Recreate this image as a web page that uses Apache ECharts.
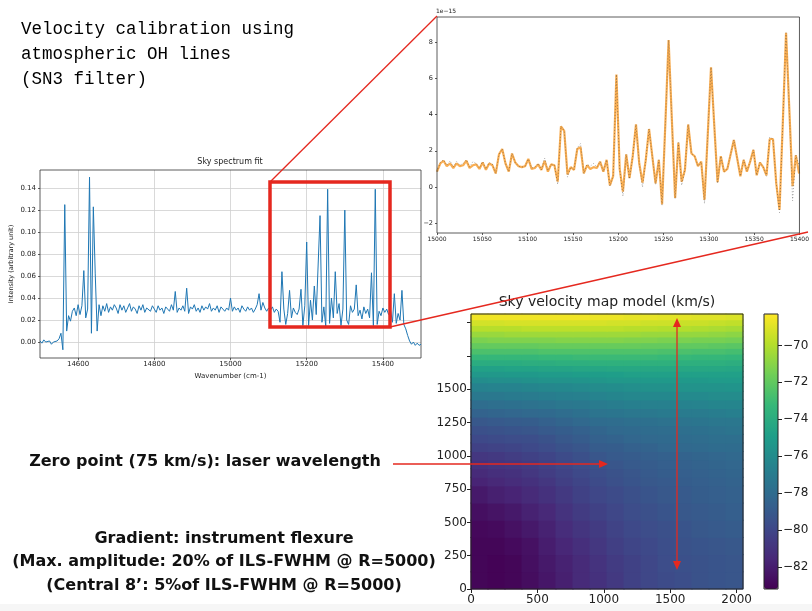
<!DOCTYPE html>
<html>
<head>
<meta charset="utf-8">
<script src="https://cdn.jsdelivr.net/npm/echarts@6/dist/echarts.min.js"></script>
<style>
  html, body { margin: 0; padding: 0; background: #fff; }
  #chart { width: 812px; height: 611px; }
</style>
</head>
<body>
<div id="chart"></div>
<script>
// sky spectrum, sampled every 5 cm-1 from 14500 to 15500
const specStart = 14500
const specStep = 5
const specValues = [
  0.001, -0.001, 0.002, 0.000, -0.001, 0.001, -0.002, 0.000, -0.001, 0.001, 0.003, 0.008, -0.007, 0.125, 0.010, 0.024, 0.019, 0.028, 0.031, 0.024,
  0.034, 0.025, 0.033, 0.065, 0.022, 0.030, 0.150, 0.008, 0.123, 0.062, 0.010, 0.034, 0.024, 0.033, 0.028, 0.035, 0.027, 0.032, 0.029, 0.034,
  0.031, 0.026, 0.034, 0.029, 0.033, 0.027, 0.031, 0.035, 0.028, 0.032, 0.030, 0.026, 0.033, 0.029, 0.034, 0.027, 0.031, 0.030, 0.028, 0.033,
  0.030, 0.027, 0.033, 0.029, 0.031, 0.026, 0.032, 0.030, 0.028, 0.034, 0.029, 0.046, 0.027, 0.031, 0.029, 0.033, 0.028, 0.049, 0.026, 0.032,
  0.030, 0.034, 0.028, 0.031, 0.027, 0.033, 0.029, 0.032, 0.030, 0.035, 0.028, 0.031, 0.029, 0.033, 0.027, 0.032, 0.030, 0.028, 0.031, 0.029,
  0.040, 0.028, 0.032, 0.029, 0.031, 0.027, 0.033, 0.030, 0.028, 0.032, 0.029, 0.031, 0.027, 0.030, 0.034, 0.044, 0.029, 0.036, 0.031, 0.028,
  0.031, 0.029, 0.032, 0.027, 0.030, 0.028, 0.018, 0.064, 0.030, 0.016, 0.026, 0.047, 0.022, 0.031, 0.027, 0.025, 0.030, 0.048, 0.015, 0.033,
  0.091, 0.015, 0.038, 0.020, 0.051, 0.025, 0.024, 0.115, 0.018, 0.032, 0.014, 0.139, 0.017, 0.040, 0.022, 0.064, 0.026, 0.035, 0.015, 0.030,
  0.120, 0.020, 0.016, 0.033, 0.027, 0.030, 0.052, 0.024, 0.029, 0.021, 0.032, 0.026, 0.030, 0.022, 0.063, 0.015, 0.139, 0.016, 0.028, 0.024,
  0.031, 0.027, 0.030, 0.025, 0.029, 0.018, 0.044, 0.017, 0.026, 0.020, 0.047, 0.016, 0.012, 0.006, 0.001, -0.002, 0.000, -0.003, -0.001, -0.003, -0.002
]
const specTicksX = [14600, 14800, 15000, 15200, 15400]
const specTicksY = [0, 0.02, 0.04, 0.06, 0.08, 0.10, 0.12, 0.14]

// zoomed fit (units of 1e-15), sampled every 3.6 cm-1 from 15000
const insetStart = 15000
const insetStep = 3.6
const insetFit = [
  0.85, 1.3, 1.45, 1.15, 1.3, 1.05, 1.3, 1.15, 1.2, 1.45,
  1.05, 1.2, 1.25, 1.0, 1.35, 0.95, 1.3, 1.2, 0.75, 1.8,
  2.1, 1.3, 0.85, 1.85, 1.35, 1.15, 1.1, 1.15, 1.55, 1.0,
  1.05, 1.25, 0.95, 1.45, 0.85, 1.25, 1.2, 0.3, 3.35, 3.1,
  0.7, 1.1, 0.95, 2.1, 2.2, 0.75, 1.2, 1.0, 1.1, 1.05,
  1.4, 0.85, 1.5, 0.1, 0.6, 6.2, 1.0, -0.25, 1.8, 0.5,
  1.7, 3.45, 1.3, 0.25, 1.5, 3.2, 1.7, 0.2, 1.5, -0.95,
  3.5, 8.1, 3.7, -0.6, 2.45, 0.3, 0.95, 3.45, 1.85, 1.7,
  1.15, 1.4, -0.7, 2.9, 6.6, 3.4, 0.27, 1.7, 0.85, 1.0,
  1.8, 2.6, 1.6, 0.6, 1.5, 0.85, 1.4, 2.05, 0.65, 1.35,
  1.1, 0.65, 2.65, 2.65, 0.2, -1.25, 3.5, 8.5, 4.3, 0.05,
  1.75, 0.75
]
const insetObs = [
  0.85, 1.35, 1.5, 1.2, 1.45, 1.1, 1.4, 1.2, 1.3, 1.5,
  1.1, 1.4, 1.3, 1.05, 1.4, 1.0, 1.35, 1.25, 0.75, 1.8,
  2.1, 1.3, 0.85, 1.85, 1.35, 1.15, 1.1, 1.15, 1.55, 1.05,
  1.1, 1.3, 0.95, 1.6, 0.9, 1.25, 1.2, 0.15, 3.35, 3.1,
  0.55, 1.1, 0.95, 2.15, 2.4, 0.75, 1.25, 1.15, 1.3, 1.1,
  1.4, 0.85, 1.5, 0.05, 0.6, 6.2, 1.0, -0.5, 1.8, 0.45,
  1.7, 3.45, 1.3, 0.0, 1.5, 3.2, 1.7, 0.15, 1.5, -1.0,
  3.5, 8.1, 3.7, -0.65, 2.45, 0.1, 0.95, 3.45, 1.85, 1.7,
  1.15, 1.4, -0.9, 2.9, 6.6, 3.4, 0.2, 1.7, 0.85, 1.0,
  1.8, 2.6, 1.6, 0.6, 1.5, 0.9, 1.4, 2.05, 0.65, 1.35,
  1.1, 0.6, 2.75, 2.65, 0.2, -1.4, 3.5, 8.5, 4.3, -0.75,
  1.75, 1.2
]
const insetTicksY = [-2, 0, 2, 4, 6, 8]

// velocity map model (km/s), cells on the 2048 x 2064 detector, rows bottom -> top
const colEdges = [0, 128, 256, 384, 512, 640, 768, 896, 1024, 1152, 1280, 1408, 1536, 1664, 1792, 1920, 2048]
const rowEdges = [0, 129, 258, 387, 516, 645, 774,
  838.5, 903, 967.5, 1032, 1096.5, 1161, 1225.5, 1290, 1354.5, 1419, 1483.5, 1548,
  1591, 1634, 1677, 1720, 1763, 1806, 1849, 1892, 1935, 1978, 2021, 2064]
const velRows = [
  [-83.0, -83.1, -83.0, -82.7, -82.3, -81.9, -81.4, -81.1, -80.7, -80.3, -80.0, -79.8, -79.6, -79.4, -79.3, -79.2],
  [-83.0, -83.1, -83.0, -82.6, -82.2, -81.8, -81.4, -81.0, -80.6, -80.3, -80.0, -79.7, -79.5, -79.4, -79.3, -79.2],
  [-83.0, -83.0, -82.8, -82.5, -82.0, -81.6, -81.2, -80.8, -80.4, -80.1, -79.9, -79.6, -79.4, -79.3, -79.2, -79.1],
  [-82.9, -82.8, -82.5, -82.2, -81.8, -81.3, -80.9, -80.6, -80.2, -79.9, -79.7, -79.5, -79.3, -79.1, -79.0, -78.9],
  [-82.6, -82.4, -82.2, -81.8, -81.5, -81.0, -80.6, -80.3, -80.0, -79.7, -79.5, -79.3, -79.1, -79.0, -78.9, -78.7],
  [-82.2, -81.9, -81.7, -81.4, -81.1, -80.7, -80.3, -80.0, -79.8, -79.5, -79.3, -79.1, -79.0, -78.8, -78.7, -78.6],
  [-81.7, -81.5, -81.3, -81.1, -80.8, -80.4, -80.1, -79.8, -79.5, -79.3, -79.1, -79.0, -78.8, -78.7, -78.6, -78.5],
  [-81.4, -81.2, -81.1, -80.8, -80.5, -80.2, -79.9, -79.6, -79.4, -79.2, -79.0, -78.8, -78.7, -78.6, -78.5, -78.4],
  [-81.1, -80.9, -80.8, -80.6, -80.3, -80.0, -79.7, -79.4, -79.2, -79.0, -78.9, -78.7, -78.6, -78.5, -78.4, -78.3],
  [-80.8, -80.7, -80.5, -80.3, -80.1, -79.8, -79.5, -79.2, -79.0, -78.9, -78.7, -78.6, -78.5, -78.4, -78.3, -78.2],
  [-80.3, -80.2, -80.1, -79.9, -79.7, -79.4, -79.2, -78.9, -78.8, -78.6, -78.5, -78.3, -78.2, -78.1, -78.0, -78.0],
  [-79.9, -79.8, -79.7, -79.6, -79.4, -79.1, -78.9, -78.6, -78.5, -78.3, -78.2, -78.1, -78.0, -77.9, -77.8, -77.8],
  [-79.5, -79.4, -79.3, -79.2, -79.0, -78.8, -78.6, -78.4, -78.2, -78.1, -78.0, -77.9, -77.8, -77.7, -77.6, -77.5],
  [-79.1, -79.0, -78.9, -78.8, -78.6, -78.4, -78.2, -78.0, -77.9, -77.8, -77.7, -77.6, -77.5, -77.4, -77.3, -77.3],
  [-78.5, -78.4, -78.3, -78.2, -78.1, -77.9, -77.7, -77.5, -77.4, -77.3, -77.2, -77.1, -77.0, -77.0, -76.9, -76.8],
  [-77.9, -77.8, -77.7, -77.6, -77.5, -77.3, -77.2, -77.0, -76.9, -76.8, -76.7, -76.7, -76.6, -76.5, -76.4, -76.4],
  [-77.2, -77.2, -77.1, -77.0, -76.9, -76.8, -76.7, -76.5, -76.4, -76.3, -76.2, -76.2, -76.1, -76.1, -76.0, -76.0],
  [-76.6, -76.5, -76.5, -76.4, -76.3, -76.2, -76.1, -76.0, -75.9, -75.8, -75.7, -75.7, -75.6, -75.6, -75.6, -75.5],
  [-75.9, -75.8, -75.8, -75.7, -75.6, -75.6, -75.5, -75.4, -75.3, -75.3, -75.2, -75.2, -75.2, -75.2, -75.1, -75.1],
  [-75.3, -75.3, -75.2, -75.2, -75.1, -75.1, -75.0, -75.0, -74.9, -74.8, -74.8, -74.8, -74.8, -74.8, -74.8, -74.8],
  [-74.7, -74.7, -74.6, -74.6, -74.5, -74.5, -74.4, -74.4, -74.3, -74.3, -74.3, -74.3, -74.3, -74.3, -74.3, -74.4],
  [-74.0, -74.0, -74.0, -73.9, -73.9, -73.8, -73.8, -73.7, -73.7, -73.7, -73.7, -73.7, -73.8, -73.8, -73.8, -73.9],
  [-73.3, -73.3, -73.3, -73.3, -73.2, -73.2, -73.1, -73.1, -73.1, -73.1, -73.1, -73.2, -73.2, -73.3, -73.3, -73.4],
  [-72.6, -72.6, -72.6, -72.6, -72.5, -72.5, -72.5, -72.5, -72.5, -72.5, -72.5, -72.6, -72.6, -72.7, -72.7, -72.8],
  [-71.9, -71.9, -71.9, -71.9, -71.8, -71.8, -71.8, -71.8, -71.8, -71.8, -71.9, -71.9, -72.0, -72.0, -72.1, -72.2],
  [-71.3, -71.2, -71.2, -71.2, -71.2, -71.1, -71.1, -71.1, -71.1, -71.2, -71.2, -71.3, -71.3, -71.4, -71.4, -71.5],
  [-70.6, -70.6, -70.5, -70.5, -70.5, -70.5, -70.5, -70.5, -70.5, -70.5, -70.6, -70.6, -70.7, -70.7, -70.8, -70.9],
  [-69.9, -69.9, -69.9, -69.8, -69.8, -69.8, -69.8, -69.8, -69.8, -69.9, -69.9, -70.0, -70.0, -70.1, -70.2, -70.3],
  [-69.3, -69.3, -69.2, -69.2, -69.2, -69.2, -69.2, -69.2, -69.3, -69.3, -69.4, -69.4, -69.5, -69.5, -69.6, -69.7],
  [-68.6, -68.6, -68.6, -68.6, -68.6, -68.6, -68.6, -68.7, -68.7, -68.8, -68.8, -68.9, -68.9, -69.0, -69.0, -69.1]
]
const velMin = -83.2
const velMax = -68.3
const mapTicksX = [0, 500, 1000, 1500, 2000]
const mapTicksY = [0, 250, 500, 750, 1000, 1250, 1500]
const mapTickMarksY = [0, 250, 500, 750, 1000, 1250, 1500, 1750, 2000]
const cbarTicks = [-82, -80, -78, -76, -74, -72, -70]

const viridis = ['#440154', '#482878', '#3e4989', '#31688e', '#26828e',
  '#1f9e89', '#35b779', '#6ece58', '#b5de2b', '#fde725']
const red = '#e5281f'
const mpl = { fontFamily: 'DejaVu Sans', color: '#222' }
const plain = v => (v < 0 ? '\u2212' + (-v) : String(v))

const specData = specValues.map((v, i) => [specStart + i * specStep, v])
const fitData = insetFit.map((v, i) => [insetStart + i * insetStep, v])
const obsData = insetObs.map((v, i) => [insetStart + i * insetStep, v])
const cells = []
velRows.forEach((row, j) => {
  row.forEach((v, i) => {
    cells.push([colEdges[i], colEdges[i + 1], rowEdges[j], rowEdges[j + 1], v])
  })
})

const chart = echarts.init(document.getElementById('chart'))

chart.setOption({
  animation: false,
  backgroundColor: '#fff',
  grid: [
    { left: 40, top: 170, width: 381, height: 188, show: true, z: 3, borderColor: '#333', borderWidth: 0.8, backgroundColor: 'transparent' },
    { left: 437, top: 17, width: 371, height: 216, show: true, z: 3, borderColor: '#333', borderWidth: 0.8, backgroundColor: 'transparent' },
    { left: 471, top: 314, width: 272, height: 275, show: true, z: 3, borderColor: '#222', borderWidth: 1, backgroundColor: 'transparent' },
    { left: 764, top: 314, width: 14, height: 275, show: true, z: 6, borderColor: '#222', borderWidth: 1, backgroundColor: 'transparent' }
  ],
  xAxis: [
    {
      gridIndex: 0, type: 'value', min: 14500, max: 15500,
      axisLine: { show: false, onZero: false },
      axisTick: { customValues: specTicksX, length: 2, lineStyle: { color: '#333', width: 0.8 } },
      axisLabel: { customValues: specTicksX, fontSize: 7, margin: 3, formatter: plain, ...mpl },
      splitLine: { show: false },
      name: 'Wavenumber (cm-1)', nameLocation: 'middle', nameGap: 15,
      nameTextStyle: { fontSize: 7, ...mpl }
    },
    {
      gridIndex: 1, type: 'value', min: 15000, max: 15400, interval: 50,
      axisLine: { show: false, onZero: false },
      axisTick: { length: 2, lineStyle: { color: '#333', width: 0.8 } },
      axisLabel: { fontSize: 6, margin: 3, formatter: plain, ...mpl },
      splitLine: { show: false }
    },
    {
      gridIndex: 2, type: 'value', min: 0, max: 2048,
      axisLine: { show: false, onZero: false },
      axisTick: { customValues: mapTicksX, length: 4, lineStyle: { color: '#222' } },
      axisLabel: { customValues: mapTicksX, fontSize: 12, margin: 5, formatter: plain, ...mpl },
      splitLine: { show: false }
    },
    { gridIndex: 3, type: 'value', min: 0, max: 1, show: false }
  ],
  yAxis: [
    {
      gridIndex: 0, type: 'value', min: -0.0145, max: 0.1565,
      axisLine: { show: false, onZero: false },
      axisTick: { customValues: specTicksY, length: 2, lineStyle: { color: '#333', width: 0.8 } },
      axisLabel: { customValues: specTicksY, fontSize: 7, margin: 4, formatter: v => v.toFixed(2), ...mpl },
      splitLine: { show: false },
      name: 'Intensity (arbitrary unit)', nameLocation: 'middle', nameGap: 25, nameRotate: 90,
      nameTextStyle: { fontSize: 6.5, ...mpl }
    },
    {
      gridIndex: 1, type: 'value', min: -2.53, max: 9.37,
      axisLine: { show: false, onZero: false },
      axisTick: { customValues: insetTicksY, length: 2, lineStyle: { color: '#333', width: 0.8 } },
      axisLabel: { customValues: insetTicksY, fontSize: 6.5, margin: 4, formatter: plain, ...mpl },
      splitLine: { show: false },
      name: '1e\u221215', nameLocation: 'end', nameGap: 3,
      nameTextStyle: { fontSize: 6, align: 'left', padding: [0, 0, 0, -1], ...mpl }
    },
    {
      gridIndex: 2, type: 'value', min: 0, max: 2064,
      axisLine: { show: false, onZero: false },
      axisTick: { customValues: mapTickMarksY, length: 4, lineStyle: { color: '#222' } },
      axisLabel: { customValues: mapTicksY, fontSize: 12, margin: 4, formatter: plain, ...mpl },
      splitLine: { show: false }
    },
    {
      gridIndex: 3, type: 'value', min: velMin, max: velMax, position: 'right',
      axisLine: { show: false, onZero: false },
      axisTick: { customValues: cbarTicks, length: 4, lineStyle: { color: '#222' } },
      axisLabel: { customValues: cbarTicks, fontSize: 12, margin: 5, formatter: plain, ...mpl },
      splitLine: { show: false }
    }
  ],
  visualMap: {
    type: 'continuous', seriesIndex: 3, dimension: 4,
    min: velMin, max: velMax, calculable: false,
    inRange: { color: viridis },
    left: 764, top: 314, itemWidth: 14, itemHeight: 275, padding: 0
  },
  series: [
    {
      type: 'line', xAxisIndex: 0, yAxisIndex: 0, data: specData, z: 3,
      showSymbol: false, lineStyle: { color: '#1f77b4', width: 1 },
      markLine: {
        silent: true, symbol: 'none', z: 1, animation: false,
        label: { show: false },
        lineStyle: { color: '#cfcfcf', width: 0.8, type: 'solid' },
        data: specTicksX.map(x => ({ xAxis: x })).concat(specTicksY.map(y => ({ yAxis: y })))
      }
    },
    {
      type: 'line', xAxisIndex: 1, yAxisIndex: 1, data: fitData, z: 2,
      showSymbol: false, lineStyle: { color: '#f8a540', width: 2.2, opacity: 0.9 }
    },
    {
      type: 'line', xAxisIndex: 1, yAxisIndex: 1, data: obsData, z: 3,
      showSymbol: false, lineStyle: { color: 'rgba(50,50,50,0.55)', width: 0.8, type: [1, 2] }
    },
    {
      type: 'custom', xAxisIndex: 2, yAxisIndex: 2, data: cells,
      encode: { x: [0, 1], y: [2, 3] },
      renderItem: (params, api) => {
        const p0 = api.coord([api.value(0), api.value(2)])
        const p1 = api.coord([api.value(1), api.value(3)])
        return {
          type: 'rect',
          shape: { x: p0[0] - 0.5, y: p1[1] - 0.5, width: p1[0] - p0[0] + 1, height: p0[1] - p1[1] + 1 },
          style: { fill: api.visual('color') }
        }
      }
    }
  ],
  graphic: [
    { type: 'rect', z: -1, shape: { x: 0, y: 604, width: 812, height: 7 }, style: { fill: '#f6f6f6' } },
    {
      type: 'text', x: 21, y: 17, z: 10,
      style: {
        text: 'Velocity calibration using\natmospheric OH lines\n(SN3 filter)',
        font: '17.5px "Liberation Mono"', fill: '#000', lineHeight: 25
      }
    },
    { type: 'text', x: 230, y: 158, z: 10, style: { text: 'Sky spectrum fit', font: '8px "DejaVu Sans"', fill: '#222', textAlign: 'center' } },
    { type: 'text', x: 607, y: 295, z: 10, style: { text: 'Sky velocity map model (km/s)', font: '14px "DejaVu Sans"', fill: '#222', textAlign: 'center' } },
    {
      type: 'text', x: 205, y: 462, z: 10,
      style: { text: 'Zero point (75 km/s): laser wavelength', font: 'bold 16px "DejaVu Sans"', fill: '#111', textAlign: 'center', textVerticalAlign: 'middle' }
    },
    {
      type: 'text', x: 224, y: 562, z: 10,
      style: {
        text: 'Gradient: instrument flexure\n(Max. amplitude: 20% of ILS-FWHM @ R=5000)\n(Central 8\u2019: 5%of ILS-FWHM @ R=5000)',
        font: 'bold 16px "DejaVu Sans"', fill: '#111', textAlign: 'center', textVerticalAlign: 'middle', lineHeight: 23.5
      }
    },
    // zoom box and connectors
    { type: 'rect', z: 10, shape: { x: 270, y: 182, width: 120, height: 145 }, style: { fill: 'none', stroke: red, lineWidth: 3.5 } },
    { type: 'line', z: 10, shape: { x1: 270, y1: 182, x2: 437, y2: 16 }, style: { stroke: red, lineWidth: 1.3 } },
    { type: 'line', z: 10, shape: { x1: 390, y1: 327, x2: 808, y2: 232 }, style: { stroke: red, lineWidth: 1.3 } },
    // zero point arrow
    { type: 'line', z: 10, shape: { x1: 393, y1: 464, x2: 600, y2: 464 }, style: { stroke: red, lineWidth: 1.3 } },
    { type: 'polygon', z: 10, shape: { points: [[599, 460], [608, 464], [599, 468]] }, style: { fill: red } },
    // gradient double arrow
    { type: 'line', z: 10, shape: { x1: 677, y1: 325, x2: 677, y2: 563 }, style: { stroke: red, lineWidth: 1.3 } },
    { type: 'polygon', z: 10, shape: { points: [[673, 327], [677, 318], [681, 327]] }, style: { fill: red } },
    { type: 'polygon', z: 10, shape: { points: [[673, 561], [677, 570], [681, 561]] }, style: { fill: red } }
  ]
})
</script>
</body>
</html>
